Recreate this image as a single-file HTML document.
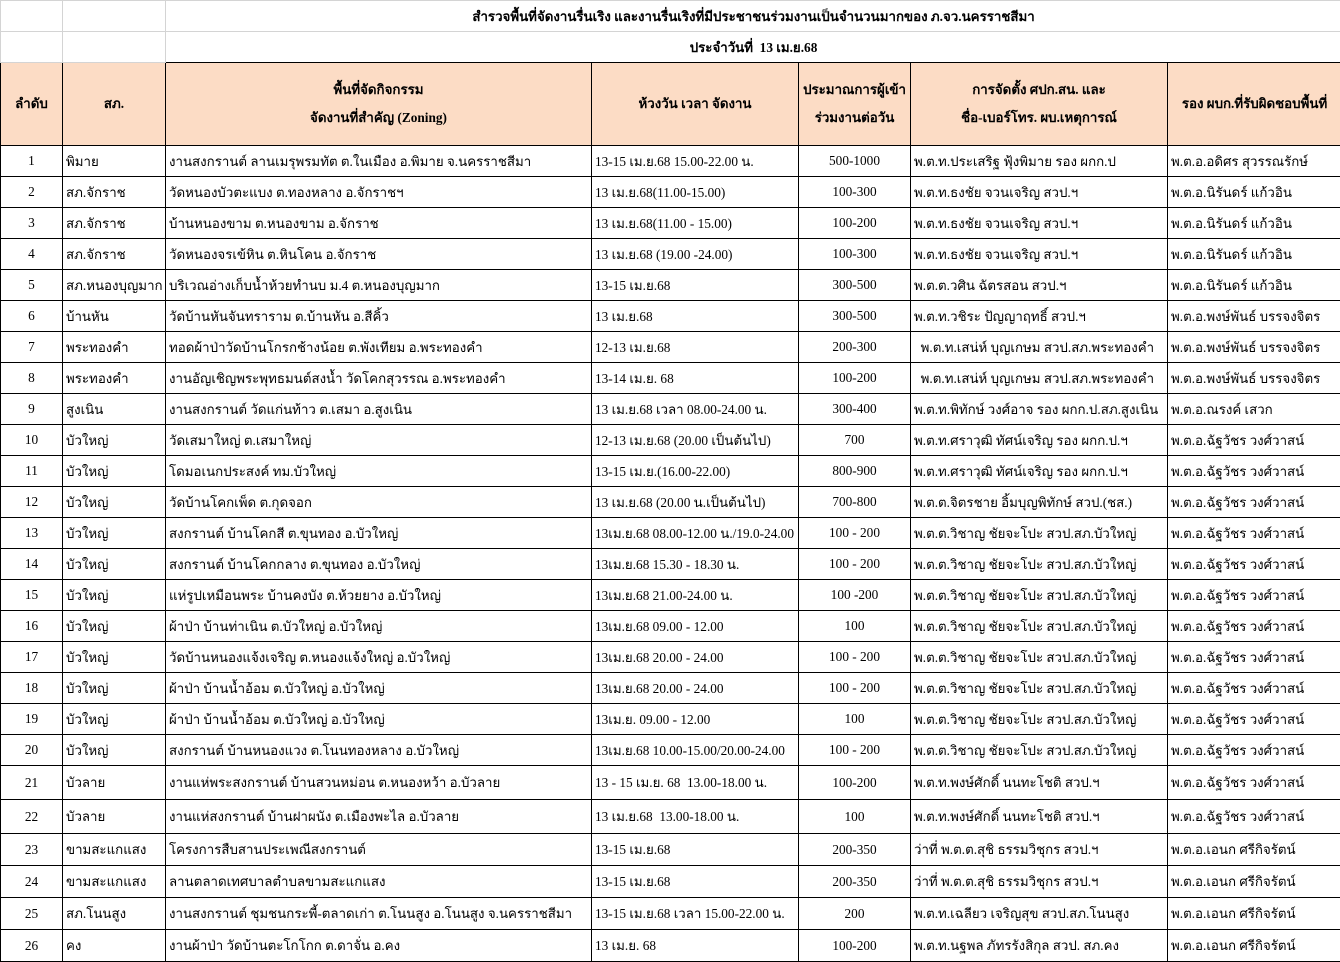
<!DOCTYPE html>
<html><head><meta charset="utf-8">
<style>
html,body{margin:0;padding:0;background:#fff;}
body{width:1340px;height:962px;overflow:hidden;font-family:"Liberation Serif","Noto Serif CJK SC",serif;font-size:13.3px;color:#000;}
table{border-collapse:collapse;table-layout:fixed;width:1341px;position:absolute;left:0;top:0;}
td{border:1px solid #000;padding:0 3px;white-space:nowrap;overflow:hidden;height:30px;vertical-align:middle;}
tr.t td{border:1px solid #d4d4d4;height:30px;font-weight:bold;}
tr.h td{background:#fcdcc5;font-weight:bold;text-align:center;height:82px;line-height:28px;}
.c{text-align:center;}
tr.b td{height:30px;}
tr.x td{height:33px;}
tr.y td{height:31px;}
</style></head><body>
<table>
<colgroup><col style="width:62px"><col style="width:103px"><col style="width:426px"><col style="width:207px"><col style="width:112px"><col style="width:257px"><col style="width:174px"></colgroup>
<tr class="t"><td></td><td></td><td colspan="5" style="text-align:center;border-bottom-color:#d4d4d4">สำรวจพื้นที่จัดงานรื่นเริง และงานรื่นเริงที่มีประชาชนร่วมงานเป็นจำนวนมากของ ภ.จว.นครราชสีมา</td></tr>
<tr class="t"><td></td><td></td><td colspan="5" style="text-align:center;border-bottom-color:#000">ประจำวันที่ &nbsp;13 เม.ย.68</td></tr>
<tr class="h"><td>ลำดับ</td><td>สภ.</td><td>พื้นที่จัดกิจกรรม<br>จัดงานที่สำคัญ (Zoning)</td><td>ห้วงวัน เวลา จัดงาน</td><td>ประมาณการผู้เข้า<br>ร่วมงานต่อวัน</td><td>การจัดตั้ง ศปก.สน. และ<br>ชื่อ-เบอร์โทร. ผบ.เหตุการณ์</td><td>รอง ผบก.ที่รับผิดชอบพื้นที่</td></tr>
<tr class="b"><td class="c">1</td><td>พิมาย</td><td>งานสงกรานต์ ลานเมรุพรมทัต ต.ในเมือง อ.พิมาย จ.นครราชสีมา</td><td>13-15 เม.ย.68 15.00-22.00 น.</td><td class="c">500-1000</td><td>พ.ต.ท.ประเสริฐ ฟุ้งพิมาย รอง ผกก.ป</td><td>พ.ต.อ.อดิศร สุวรรณรักษ์</td></tr>
<tr class="b"><td class="c">2</td><td>สภ.จักราช</td><td>วัดหนองบัวตะแบง ต.ทองหลาง อ.จักราชฯ</td><td>13 เม.ย.68(11.00-15.00)</td><td class="c">100-300</td><td>พ.ต.ท.ธงชัย จวนเจริญ สวป.ฯ</td><td>พ.ต.อ.นิรันดร์ แก้วอิน</td></tr>
<tr class="b"><td class="c">3</td><td>สภ.จักราช</td><td>บ้านหนองขาม ต.หนองขาม อ.จักราช</td><td>13 เม.ย.68(11.00 - 15.00)</td><td class="c">100-200</td><td>พ.ต.ท.ธงชัย จวนเจริญ สวป.ฯ</td><td>พ.ต.อ.นิรันดร์ แก้วอิน</td></tr>
<tr class="b"><td class="c">4</td><td>สภ.จักราช</td><td>วัดหนองจรเข้หิน ต.หินโคน อ.จักราช</td><td>13 เม.ย.68 (19.00 -24.00)</td><td class="c">100-300</td><td>พ.ต.ท.ธงชัย จวนเจริญ สวป.ฯ</td><td>พ.ต.อ.นิรันดร์ แก้วอิน</td></tr>
<tr class="b"><td class="c">5</td><td>สภ.หนองบุญมาก</td><td>บริเวณอ่างเก็บน้ำห้วยทำนบ ม.4 ต.หนองบุญมาก</td><td>13-15 เม.ย.68</td><td class="c">300-500</td><td>พ.ต.ต.วศิน ฉัตรสอน สวป.ฯ</td><td>พ.ต.อ.นิรันดร์ แก้วอิน</td></tr>
<tr class="b"><td class="c">6</td><td>บ้านหัน</td><td>วัดบ้านหันจันทราราม ต.บ้านหัน อ.สีคิ้ว</td><td>13 เม.ย.68</td><td class="c">300-500</td><td>พ.ต.ท.วชิระ ปัญญาฤทธิ์ สวป.ฯ</td><td>พ.ต.อ.พงษ์พันธ์ บรรจงจิตร</td></tr>
<tr class="b"><td class="c">7</td><td>พระทองคำ</td><td>ทอดผ้าป่าวัดบ้านโกรกช้างน้อย ต.พังเทียม อ.พระทองคำ</td><td>12-13 เม.ย.68</td><td class="c">200-300</td><td>&nbsp;&nbsp;พ.ต.ท.เสน่ห์ บุญเกษม สวป.สภ.พระทองคำ</td><td>พ.ต.อ.พงษ์พันธ์ บรรจงจิตร</td></tr>
<tr class="b"><td class="c">8</td><td>พระทองคำ</td><td>งานอัญเชิญพระพุทธมนต์สงน้ำ วัดโคกสุวรรณ อ.พระทองคำ</td><td>13-14 เม.ย. 68</td><td class="c">100-200</td><td>&nbsp;&nbsp;พ.ต.ท.เสน่ห์ บุญเกษม สวป.สภ.พระทองคำ</td><td>พ.ต.อ.พงษ์พันธ์ บรรจงจิตร</td></tr>
<tr class="b"><td class="c">9</td><td>สูงเนิน</td><td>งานสงกรานต์ วัดแก่นท้าว ต.เสมา อ.สูงเนิน</td><td>13 เม.ย.68 เวลา 08.00-24.00 น.</td><td class="c">300-400</td><td>พ.ต.ท.พิทักษ์ วงศ์อาจ รอง ผกก.ป.สภ.สูงเนิน</td><td>พ.ต.อ.ณรงค์ เสวก</td></tr>
<tr class="b"><td class="c">10</td><td>บัวใหญ่</td><td>วัดเสมาใหญ่ ต.เสมาใหญ่</td><td>12-13 เม.ย.68 (20.00 เป็นต้นไป)</td><td class="c">700</td><td>พ.ต.ท.ศราวุฒิ ทัศน์เจริญ รอง ผกก.ป.ฯ</td><td>พ.ต.อ.ฉัฐวัชร วงศ์วาสน์</td></tr>
<tr class="b"><td class="c">11</td><td>บัวใหญ่</td><td>โดมอเนกประสงค์ ทม.บัวใหญ่</td><td>13-15 เม.ย.(16.00-22.00)</td><td class="c">800-900</td><td>พ.ต.ท.ศราวุฒิ ทัศน์เจริญ รอง ผกก.ป.ฯ</td><td>พ.ต.อ.ฉัฐวัชร วงศ์วาสน์</td></tr>
<tr class="b"><td class="c">12</td><td>บัวใหญ่</td><td>วัดบ้านโคกเพ็ด ต.กุดจอก</td><td>13 เม.ย.68 (20.00 น.เป็นต้นไป)</td><td class="c">700-800</td><td>พ.ต.ต.จิตรชาย อิ้มบุญพิทักษ์ สวป.(ชส.)</td><td>พ.ต.อ.ฉัฐวัชร วงศ์วาสน์</td></tr>
<tr class="b"><td class="c">13</td><td>บัวใหญ่</td><td>สงกรานต์ บ้านโคกสี ต.ขุนทอง อ.บัวใหญ่</td><td>13เม.ย.68 08.00-12.00 น./19.0-24.00</td><td class="c">100 - 200</td><td>พ.ต.ต.วิชาญ ชัยจะโปะ สวป.สภ.บัวใหญ่</td><td>พ.ต.อ.ฉัฐวัชร วงศ์วาสน์</td></tr>
<tr class="b"><td class="c">14</td><td>บัวใหญ่</td><td>สงกรานต์ บ้านโคกกลาง ต.ขุนทอง อ.บัวใหญ่</td><td>13เม.ย.68 15.30 - 18.30 น.</td><td class="c">100 - 200</td><td>พ.ต.ต.วิชาญ ชัยจะโปะ สวป.สภ.บัวใหญ่</td><td>พ.ต.อ.ฉัฐวัชร วงศ์วาสน์</td></tr>
<tr class="b"><td class="c">15</td><td>บัวใหญ่</td><td>แห่รูปเหมือนพระ บ้านคงบัง ต.ห้วยยาง อ.บัวใหญ่</td><td>13เม.ย.68 21.00-24.00 น.</td><td class="c">100 -200</td><td>พ.ต.ต.วิชาญ ชัยจะโปะ สวป.สภ.บัวใหญ่</td><td>พ.ต.อ.ฉัฐวัชร วงศ์วาสน์</td></tr>
<tr class="b"><td class="c">16</td><td>บัวใหญ่</td><td>ผ้าป่า บ้านท่าเนิน ต.บัวใหญ่ อ.บัวใหญ่</td><td>13เม.ย.68 09.00 - 12.00</td><td class="c">100</td><td>พ.ต.ต.วิชาญ ชัยจะโปะ สวป.สภ.บัวใหญ่</td><td>พ.ต.อ.ฉัฐวัชร วงศ์วาสน์</td></tr>
<tr class="b"><td class="c">17</td><td>บัวใหญ่</td><td>วัดบ้านหนองแจ้งเจริญ ต.หนองแจ้งใหญ่ อ.บัวใหญ่</td><td>13เม.ย.68 20.00 - 24.00</td><td class="c">100 - 200</td><td>พ.ต.ต.วิชาญ ชัยจะโปะ สวป.สภ.บัวใหญ่</td><td>พ.ต.อ.ฉัฐวัชร วงศ์วาสน์</td></tr>
<tr class="b"><td class="c">18</td><td>บัวใหญ่</td><td>ผ้าป่า บ้านน้ำอ้อม ต.บัวใหญ่ อ.บัวใหญ่</td><td>13เม.ย.68 20.00 - 24.00</td><td class="c">100 - 200</td><td>พ.ต.ต.วิชาญ ชัยจะโปะ สวป.สภ.บัวใหญ่</td><td>พ.ต.อ.ฉัฐวัชร วงศ์วาสน์</td></tr>
<tr class="b"><td class="c">19</td><td>บัวใหญ่</td><td>ผ้าป่า บ้านน้ำอ้อม ต.บัวใหญ่ อ.บัวใหญ่</td><td>13เม.ย. 09.00 - 12.00</td><td class="c">100</td><td>พ.ต.ต.วิชาญ ชัยจะโปะ สวป.สภ.บัวใหญ่</td><td>พ.ต.อ.ฉัฐวัชร วงศ์วาสน์</td></tr>
<tr class="b"><td class="c">20</td><td>บัวใหญ่</td><td>สงกรานต์ บ้านหนองแวง ต.โนนทองหลาง อ.บัวใหญ่</td><td>13เม.ย.68 10.00-15.00/20.00-24.00</td><td class="c">100 - 200</td><td>พ.ต.ต.วิชาญ ชัยจะโปะ สวป.สภ.บัวใหญ่</td><td>พ.ต.อ.ฉัฐวัชร วงศ์วาสน์</td></tr>
<tr class="x"><td class="c">21</td><td>บัวลาย</td><td>งานแห่พระสงกรานต์ บ้านสวนหม่อน ต.หนองหว้า อ.บัวลาย</td><td>13 - 15 เม.ย. 68 &nbsp;13.00-18.00 น.</td><td class="c">100-200</td><td>พ.ต.ท.พงษ์ศักดิ์ นนทะโชติ สวป.ฯ</td><td>พ.ต.อ.ฉัฐวัชร วงศ์วาสน์</td></tr>
<tr class="x"><td class="c">22</td><td>บัวลาย</td><td>งานแห่สงกรานต์ บ้านฝาผนัง ต.เมืองพะไล อ.บัวลาย</td><td>13 เม.ย.68 &nbsp;13.00-18.00 น.</td><td class="c">100</td><td>พ.ต.ท.พงษ์ศักดิ์ นนทะโชติ สวป.ฯ</td><td>พ.ต.อ.ฉัฐวัชร วงศ์วาสน์</td></tr>
<tr class="y"><td class="c">23</td><td>ขามสะแกแสง</td><td>โครงการสืบสานประเพณีสงกรานต์</td><td>13-15 เม.ย.68</td><td class="c">200-350</td><td>ว่าที่ พ.ต.ต.สุชิ ธรรมวิชุกร สวป.ฯ</td><td>พ.ต.อ.เอนก ศรีกิจรัตน์</td></tr>
<tr class="y"><td class="c">24</td><td>ขามสะแกแสง</td><td>ลานตลาดเทศบาลตำบลขามสะแกแสง</td><td>13-15 เม.ย.68</td><td class="c">200-350</td><td>ว่าที่ พ.ต.ต.สุชิ ธรรมวิชุกร สวป.ฯ</td><td>พ.ต.อ.เอนก ศรีกิจรัตน์</td></tr>
<tr class="y"><td class="c">25</td><td>สภ.โนนสูง</td><td>งานสงกรานต์ ชุมชนกระพี้-ตลาดเก่า ต.โนนสูง อ.โนนสูง จ.นครราชสีมา</td><td>13-15 เม.ย.68 เวลา 15.00-22.00 น.</td><td class="c">200</td><td>พ.ต.ท.เฉลียว เจริญสุข สวป.สภ.โนนสูง</td><td>พ.ต.อ.เอนก ศรีกิจรัตน์</td></tr>
<tr class="y"><td class="c">26</td><td>คง</td><td>งานผ้าป่า วัดบ้านตะโกโกก ต.ดาจั่น อ.คง</td><td>13 เม.ย. 68</td><td class="c">100-200</td><td>พ.ต.ท.นฐพล ภัทรรังสิกุล สวป. สภ.คง</td><td>พ.ต.อ.เอนก ศรีกิจรัตน์</td></tr>
</table>
</body></html>
